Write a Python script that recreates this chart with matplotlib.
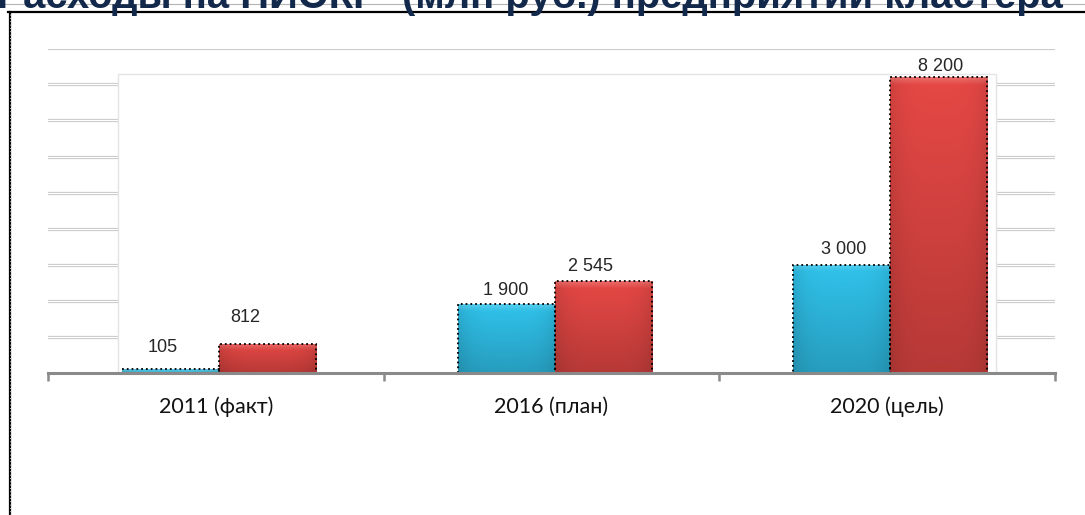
import matplotlib
matplotlib.use('Agg')
import matplotlib.pyplot as plt
import numpy as np
from matplotlib.colors import to_rgb
from matplotlib.lines import Line2D
from matplotlib.patches import Rectangle

# ---- data ----
categories = ['2011 (факт)', '2016 (план)', '2020 (цель)']
series_blue = [105, 1900, 3000]
series_red = [812, 2545, 8200]
labels_blue = ['105', '1 900', '3 000']
labels_red = ['812', '2 545', '8 200']
title_text = 'Расходы на НИОКР  (млн руб.) предприятий кластера'
grid_values = [1000, 2000, 3000, 4000, 5000, 6000, 7000, 8000, 9000]

# label offsets in pixels (dx, dy) relative to bar top-center
offs_blue = [(-8, 22), (0, 14), (2, 15)]
offs_red = [(-22, 26), (-13, 15), (2, 11)]

W, H = 1085, 515
fig = plt.figure(figsize=(W / 100, H / 100), dpi=100)
fig.patch.set_facecolor('white')
ax = fig.add_axes([48 / W, 1 - 373 / H, 1007 / W, (373 - 48.3) / H])
ax.set_xlim(-0.5, 2.5)
ax.set_ylim(0, 9000)
ax.set_facecolor('none')

# gridlines (double thin lines)
for g in grid_values:
    ax.axhline(g, color='#cbcbcb', lw=2.3, zorder=0.5)
    ax.axhline(g, color='white', lw=0.8, zorder=0.6)

# back wall
ax.add_patch(Rectangle((-0.2915, 0), 2.324 + 0.2915, 8278, facecolor='white',
                       edgecolor='#e4e4e4', lw=1.0, zorder=1))

w = 0.289
shift = 0.009
x = np.arange(len(categories))


def shade_bar(rect, base, lo, hi):
    x0, y0 = rect.get_x(), rect.get_y()
    bw, bh = rect.get_width(), rect.get_height()
    if bh <= 0:
        return
    n = 200
    yy = np.linspace(1, 0, n)[:, None]  # top=1
    xx = np.linspace(0, 1, 60)[None, :]
    c = np.array(to_rgb(base))
    vert = lo + (hi - lo) * yy
    horiz = 1 - 0.10 * (np.abs(xx - 0.5) * 2) ** 4
    img = c[None, None, :] * (vert * horiz)[:, :, None]
    # top bevel highlight
    px_h = bh * 0.036  # pixels
    bevel = np.clip(1 - (1 - yy) * px_h / 7.0, 0, 1)
    img = img + (1 - img) * 0.2 * bevel[:, :, None]
    img = np.clip(img, 0, 1)
    im = ax.imshow(img, extent=(x0, x0 + bw, y0, y0 + bh), aspect='auto',
                   zorder=2.5, interpolation='bilinear')
    im.set_clip_path(rect)


bars_b = ax.bar(x + shift - w / 2, series_blue, w, color='#2DB2D7',
                edgecolor='black', linestyle=':', lw=1.3, zorder=3)
bars_r = ax.bar(x + shift + w / 2, series_red, w, color='#D43F3B',
                edgecolor='black', linestyle=':', lw=1.3, zorder=3)
for b in bars_b:
    b.set_facecolor('none')
    shade_bar(b, '#2DB6DC', 0.86, 1.07)
for b in bars_r:
    b.set_facecolor('none')
    shade_bar(b, '#D94441', 0.84, 1.06)

for bars, labs, offs in [(bars_b, labels_blue, offs_blue), (bars_r, labels_red, offs_red)]:
    for b, lab, (dx, dy) in zip(bars, labs, offs):
        ax.annotate(lab, (b.get_x() + b.get_width() / 2, b.get_height()),
                    xytext=(dx, dy), textcoords='offset pixels',
                    ha='center', va='center', fontsize=13, color='#262626',
                    family='Liberation Sans', zorder=5)

# axes
for s in ['top', 'right', 'left']:
    ax.spines[s].set_visible(False)
ax.spines['bottom'].set_color('#8a8a8a')
ax.spines['bottom'].set_linewidth(2.2)
ax.spines['bottom'].set_zorder(4)
ax.set_yticks([])
ax.set_xticks([-0.5, 0.5, 1.5, 2.5])
ax.set_xticklabels([])
ax.tick_params(axis='x', which='major', direction='out', length=6,
               width=1.8, color='#8a8a8a')
ax.set_xticks(x, minor=True)
ax.set_xticklabels(categories, minor=True, fontsize=15.5,
                   family=['Lato', 'Noto Sans'], color='#111111')
ax.tick_params(axis='x', which='minor', length=0, pad=17)

# frame
fig.add_artist(Line2D([0, 1], [1 - 3.5 / H] * 2, color='#b4b4b4', lw=0.8))
fig.add_artist(Line2D([8 / W, 1], [1 - 12 / H] * 2, color='black', lw=1.6))
fig.add_artist(Line2D([9.5 / W] * 2, [0, 1 - 12 / H], color='black', lw=1.6))
fig.add_artist(Line2D([9.5 / W] * 2, [0, 1 - 12 / H], color='white', lw=0.6,
                      linestyle=(0, (1, 3))))

fig.text(1063 / W, 1 - 8 / H, title_text, ha='right', va='baseline',
         fontsize=28.8, fontweight='bold', color='#13294B',
         family='Liberation Sans')

fig.savefig('out.png', dpi=100)
